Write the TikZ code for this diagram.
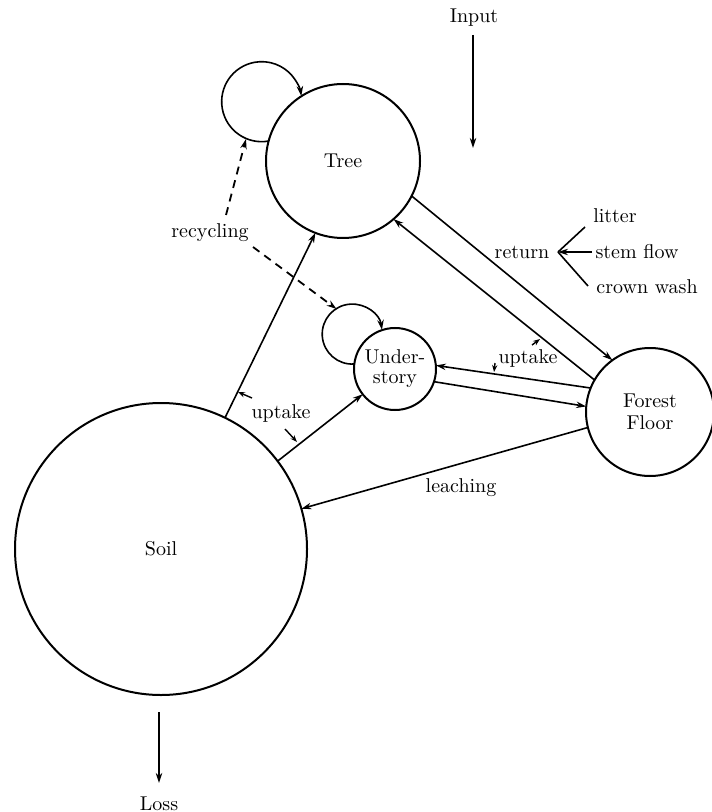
\documentclass[tikz,border=0pt]{standalone}
\usetikzlibrary{arrows.meta}
\begin{document}
\begin{tikzpicture}[x=0.5pt,y=-0.5pt,
  pool/.style={circle,draw,line width=1pt,inner sep=0pt,outer sep=0pt,align=center},
  lbl/.style={inner sep=1pt},
  flow/.style={line width=0.8pt,-{Stealth[length=5pt,width=3.2pt]}},
  plain/.style={line width=0.8pt},
  tick/.style={line width=0.7pt,-{Stealth[length=3.5pt,width=2.6pt]}},
  recyc/.style={line width=0.9pt,dash pattern=on 4pt off 3pt,-{Stealth[length=5pt,width=3.2pt]}}]
\useasboundingbox (0,0) rectangle (711,812);

% pools
\node[pool,minimum size=77pt] (tree) at (343,161) {Tree};
\node[pool,minimum size=146pt] (soil) at (161,549) {Soil};
\node[pool,minimum size=41pt] (und) at (395,369) {Under-\\[-2pt]story};
\node[pool,minimum size=64pt] (ff) at (650,412) {Forest\\[-1pt]Floor};

% labels
\node[lbl] (inp) at (474,18) {Input};
\node[lbl] (loss) at (159,804) {Loss};
\node[lbl] (ret) at (522,252) {return};
\node[lbl] (lit) at (615,216) {litter};
\node[lbl] (stem) at (637,252) {stem flow};
\node[lbl] (crown) at (647,287) {crown wash};
\node[lbl] (upA) at (528,358) {uptake};
\node[lbl] (upB) at (281,413) {uptake};
\node[lbl] (leach) at (461,488) {leaching};
\node[lbl] (rec) at (210,233) {recycling};

% free ends
\coordinate (inEnd) at (473,148);
\coordinate (inStart) at (473,35);
\coordinate (lossStart) at (159,712);
\coordinate (lossEnd) at (159,783);
\coordinate (vtx) at (558,252);
\coordinate (litEnd) at (585,227);
\coordinate (stemEnd) at (592,252);
\coordinate (crownEnd) at (588,286);
\coordinate (recA) at (226,215);
\coordinate (recB) at (253,247);
\coordinate (treeLoopPt) at (246,139);
\coordinate (undLoopPt) at (336.5,309);

% input / loss
\draw[flow] (inStart) -- (inEnd);
\draw[flow] (lossStart) -- (lossEnd);

% self loops
\draw[flow] (tree.165) arc[start angle=-80,end angle=-352,radius=20pt];
\draw[flow] (und.173) arc[start angle=-86,end angle=-352,radius=15pt];

% recycling
\draw[recyc] (recA) -- (treeLoopPt);
\draw[recyc] (recB) -- (undLoopPt);

% tree <-> forest floor
\draw[flow] (tree.-27.9) -- (ff.126.5);
\draw[flow] (ff.150.7) -- (tree.-49.6);

% understory <-> forest floor
\draw[flow] (ff.158.8) -- (und.5.4);
\draw[flow] (und.-18) -- (ff.175.5);

% soil uptake
\draw[flow] (soil.64.8) -- (tree.249.8);
\draw[flow] (soil.37.9) -- (und.218.2);

% leaching
\draw[flow] (ff.194.5) -- (soil.16.5);

% return branches
\draw[plain] (litEnd) -- (vtx);
\draw[plain] (crownEnd) -- (vtx);
\draw[flow] (stemEnd) -- (vtx);

% uptake ticks
\draw[tick] (532,345) -- (540,339);
\draw[tick] (495,363) -- (494,372);
\draw[tick] (252,398) -- (238,392);
\draw[tick] (285,429) -- (297,442);
\end{tikzpicture}
\end{document}
